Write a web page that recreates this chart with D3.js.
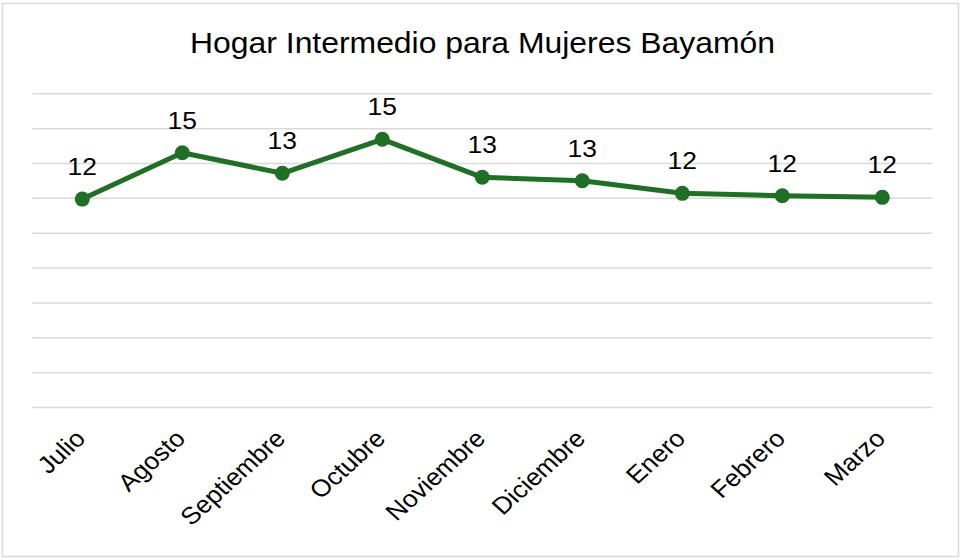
<!DOCTYPE html>
<html>
<head>
<meta charset="utf-8">
<script src="https://cdn.jsdelivr.net/npm/d3@7"></script>
<style>
  body { margin: 0; background: #fff; }
  text { font-family: "Liberation Sans", Arial, sans-serif; fill: #000; }
</style>
</head>
<body>
<script>
const width = 961;
const height = 559;

// chart data
const months = ["Julio", "Agosto", "Septiembre", "Octubre", "Noviembre", "Diciembre", "Enero", "Febrero", "Marzo"];
const values = [11.93, 14.59, 13.41, 15.36, 13.18, 12.98, 12.26, 12.12, 12.03];
const yTicks = [0, 2, 4, 6, 8, 10, 12, 14, 16, 18];
const title = "Hogar Intermedio para Mujeres Bayamón";

const plot = { left: 32.3, right: 932.3, top: 93.3, bottom: 407 };
const stretch = 1.1; // the original text is a bit wider than tall

const svg = d3.select("body")
    .append("svg")
    .attr("width", width)
    .attr("height", height);

// outer frame
svg.append("rect")
    .attr("x", 2.5)
    .attr("y", 3.5)
    .attr("width", width - 5)
    .attr("height", height - 6)
    .attr("fill", "#fff")
    .attr("stroke", "#d9d9d9")
    .attr("stroke-width", 1.5);

const xScale = d3.scalePoint()
    .domain(months)
    .range([plot.left, plot.right])
    .padding(0.5);

const yScale = d3.scaleLinear()
    .domain([0, 18])
    .range([plot.bottom, plot.top]);

// horizontal gridlines
const grid = svg.append("g")
    .attr("transform", `translate(${plot.left}, 0)`)
    .call(d3.axisLeft(yScale)
        .tickValues(yTicks)
        .tickSize(-(plot.right - plot.left))
        .tickFormat(""));
grid.select(".domain").remove();
grid.selectAll(".tick line")
    .attr("stroke", "#d9d9d9")
    .attr("stroke-width", 1.5);

// category labels
const xAxis = svg.append("g")
    .attr("transform", `translate(0, ${plot.bottom})`)
    .call(d3.axisBottom(xScale).tickSize(0).tickFormat(d => d));
xAxis.select(".domain").remove();
xAxis.selectAll(".tick text")
    .attr("font-size", 24)
    .attr("font-family", "Liberation Sans, Arial, sans-serif")
    .attr("fill", "#000")
    .attr("text-anchor", "end")
    .attr("y", 0)
    .attr("dy", 0)
    .attr("transform", `translate(4, 33) scale(${stretch}, 1) rotate(-45)`);

// title
svg.append("text")
    .attr("transform", `translate(${width / 2 + 2}, 53) scale(${stretch}, 1)`)
    .attr("text-anchor", "middle")
    .attr("font-size", 29)
    .text(title);

const data = months.map((m, i) => ({ m, v: values[i] }));

const line = d3.line()
    .x(d => xScale(d.m))
    .y(d => yScale(d.v));

svg.append("path")
    .datum(data)
    .attr("d", line)
    .attr("fill", "none")
    .attr("stroke", "#1f6f25")
    .attr("stroke-width", 5)
    .attr("stroke-linejoin", "round");

svg.selectAll(".dot")
    .data(data)
    .join("circle")
    .attr("class", "dot")
    .attr("cx", d => xScale(d.m))
    .attr("cy", d => yScale(d.v))
    .attr("r", 7.5)
    .attr("fill", "#1f6f25");

// data labels
svg.selectAll(".lbl")
    .data(data)
    .join("text")
    .attr("class", "lbl")
    .attr("transform", d => `translate(${xScale(d.m)}, ${yScale(d.v) - 24}) scale(${stretch}, 1)`)
    .attr("text-anchor", "middle")
    .attr("font-size", 24)
    .text(d => d3.format(".0f")(d.v));
</script>
</body>
</html>
